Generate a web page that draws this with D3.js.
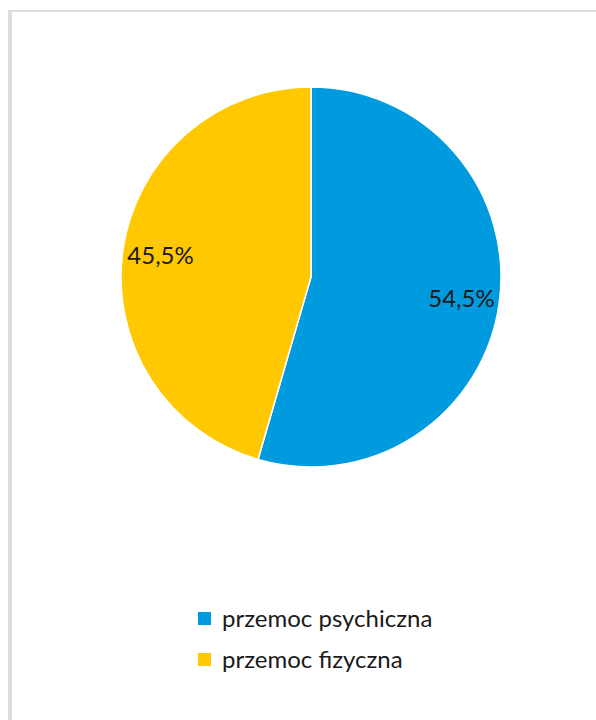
<!DOCTYPE html>
<html>
<head>
<meta charset="utf-8">
<script src="https://cdn.jsdelivr.net/npm/d3@7"></script>
<style>
  body { margin: 0; background: #fff; }
  svg { display: block; }
  text { font-family: Lato, "Open Sans", sans-serif; fill: #1a1a1a; }
</style>
</head>
<body>
<svg></svg>
<script>
const width = 596;
const height = 720;

const categories = ['przemoc psychiczna', 'przemoc fizyczna'];
const values = [54.5, 45.5];
const colors = ['#009bdf', '#ffc800'];

const svg = d3.select('svg')
  .attr('width', width)
  .attr('height', height);

// frame lines at the top and left edge
svg.append('line')
  .attr('x1', 8).attr('x2', width)
  .attr('y1', 11).attr('y2', 11)
  .attr('stroke', '#dcdcdc')
  .attr('stroke-width', 2);
svg.append('line')
  .attr('x1', 10).attr('x2', 10)
  .attr('y1', 10).attr('y2', height)
  .attr('stroke', '#dcdcdc')
  .attr('stroke-width', 4);

const cx = 311, cy = 277, radius = 190;

const pie = d3.pie().sort(null).value(d => d.value);
const data = pie(categories.map((c, i) => ({ name: c, value: values[i], color: colors[i] })));

const arc = d3.arc().innerRadius(0).outerRadius(radius);
const labelArc = d3.arc().innerRadius(radius * 0.8).outerRadius(radius * 0.8);

const g = svg.append('g').attr('transform', `translate(${cx},${cy})`);

g.selectAll('path')
  .data(data)
  .enter()
  .append('path')
    .attr('d', arc)
    .attr('fill', d => d.data.color)
    .attr('stroke', '#fff')
    .attr('stroke-width', 1.5);

g.selectAll('text')
  .data(data)
  .enter()
  .append('text')
    .attr('transform', d => `translate(${labelArc.centroid(d)})`)
    .attr('text-anchor', 'middle')
    .attr('dy', '0.35em')
    .style('font-size', '24px')
    .text(d => d3.format('.1f')(d.data.value).replace('.', ',') + '%');

// legend
const legend = svg.append('g')
  .selectAll('g')
  .data(categories)
  .enter()
  .append('g')
    .attr('transform', (d, i) => `translate(198, ${612 + i * 41})`);

legend.append('rect')
  .attr('width', 13)
  .attr('height', 13)
  .attr('fill', (d, i) => colors[i]);

legend.append('text')
  .attr('x', 24)
  .attr('y', 7)
  .attr('dy', '0.35em')
  .style('font-size', '24px')
  .text(d => d);
</script>
</body>
</html>
